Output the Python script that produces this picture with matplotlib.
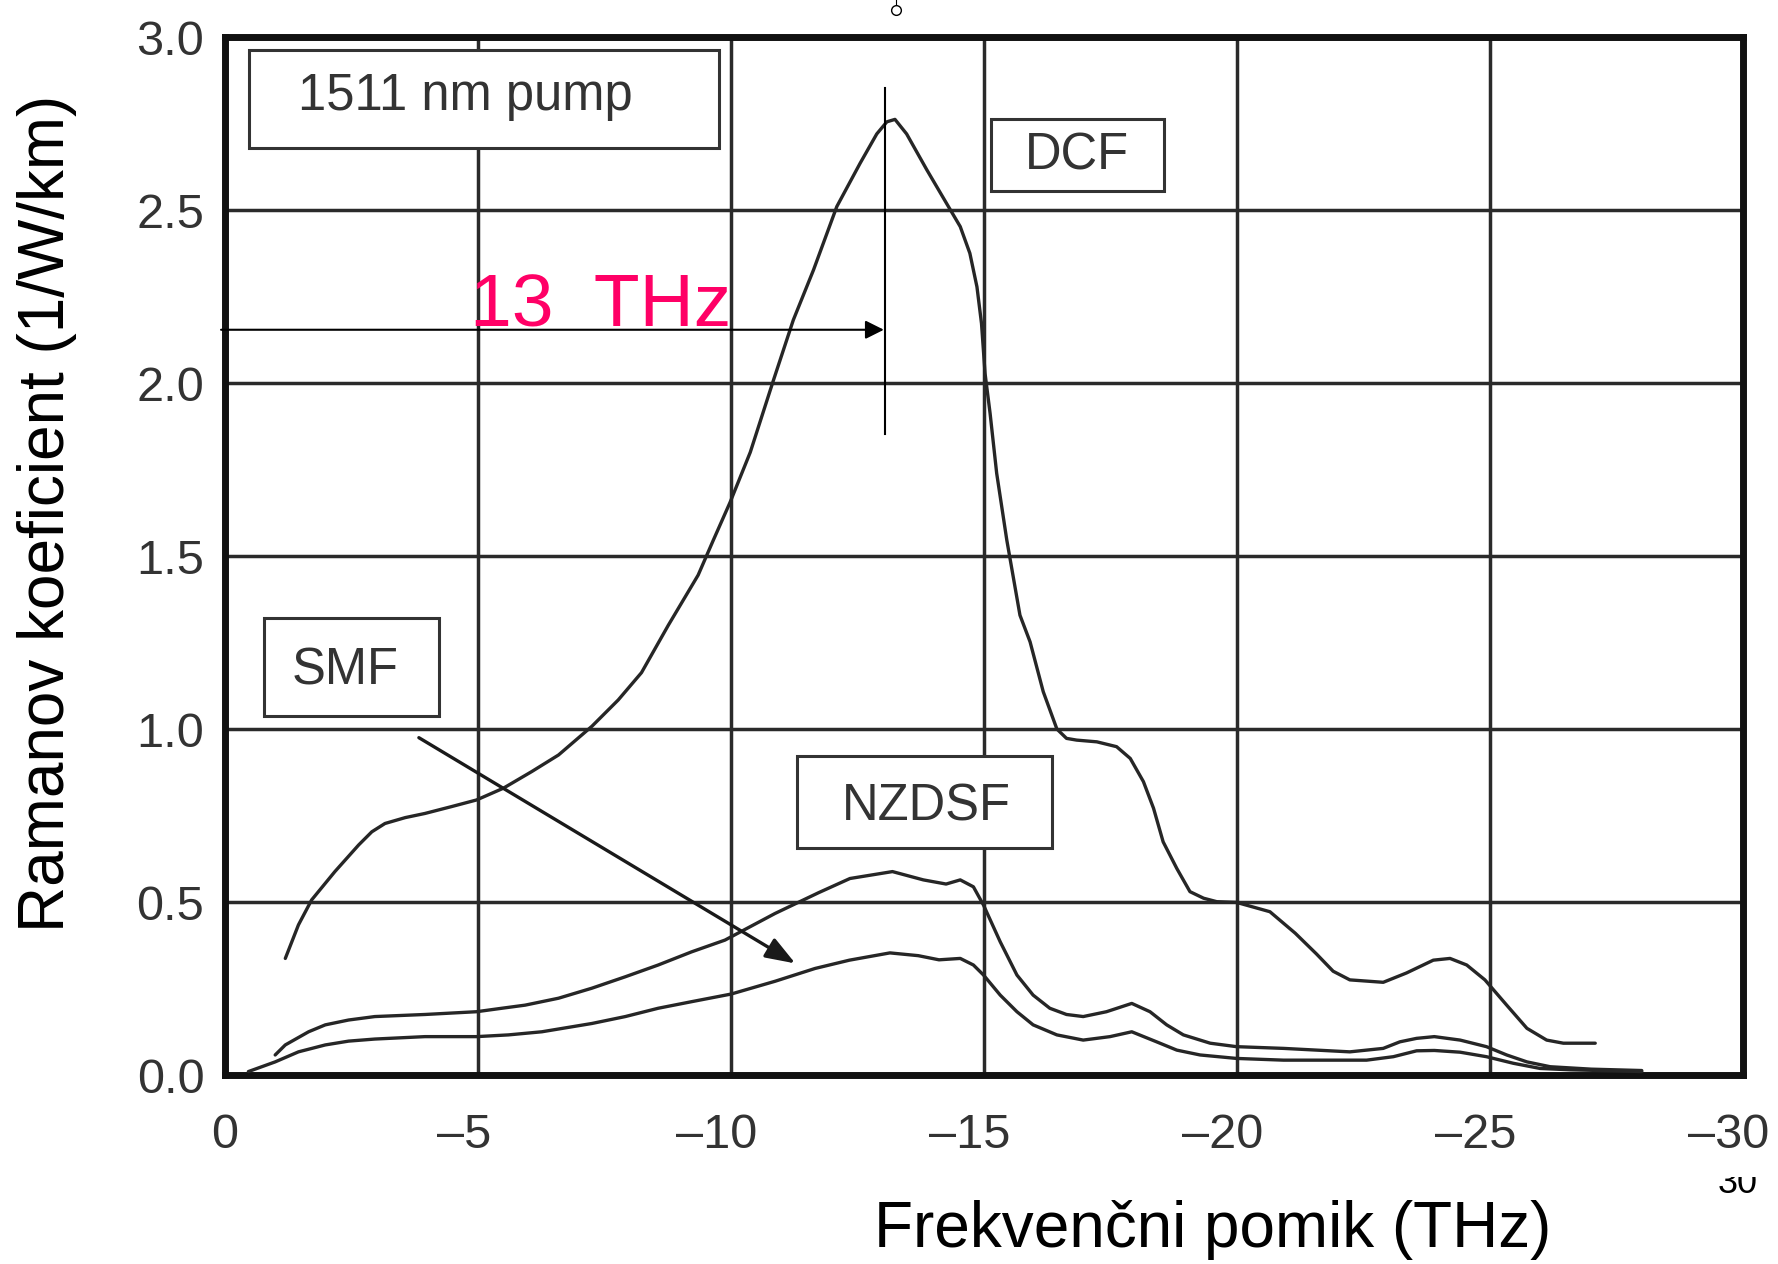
import matplotlib
matplotlib.use("Agg")
import matplotlib.pyplot as plt
from matplotlib.patches import Rectangle
from matplotlib.lines import Line2D
from matplotlib.transforms import ScaledTranslation

plt.rcParams['font.family'] = ['Liberation Sans', 'DejaVu Sans']

# Raman gain curves (frequency shift in THz, gain in 1/W/km)
dcf_x = [-1.19, -1.45, -1.71, -2.17, -2.64, -2.90, -3.16, -3.56, -3.95, -4.48, -4.97,
         -5.50, -6.06, -6.59, -7.25, -7.77, -8.23, -8.76, -9.35, -9.65, -9.98, -10.38,
         -10.84, -11.23, -11.63, -12.09, -12.55, -12.88, -13.08, -13.24, -13.47, -13.87,
         -14.26, -14.53, -14.72, -14.86, -14.95, -15.02, -15.12, -15.25, -15.45, -15.71,
         -15.91, -16.17, -16.44, -16.63, -16.83, -17.23, -17.62, -17.89, -18.15, -18.35,
         -18.54, -18.81, -19.07, -19.34, -19.60, -19.99, -20.65, -21.15, -21.57, -21.90,
         -22.23, -22.89, -23.35, -23.88, -24.21, -24.54, -24.90, -25.33, -25.73, -26.12,
         -26.45, -27.08]
dcf_y = [0.337, 0.434, 0.506, 0.588, 0.665, 0.703, 0.727, 0.744, 0.756, 0.776, 0.795,
         0.829, 0.877, 0.925, 1.008, 1.084, 1.163, 1.30, 1.445, 1.546, 1.655, 1.80,
         2.009, 2.182, 2.327, 2.510, 2.635, 2.720, 2.755, 2.762, 2.720, 2.616,
         2.519, 2.452, 2.375, 2.278, 2.172, 2.028, 1.912, 1.739, 1.546, 1.329,
         1.252, 1.108, 1.0, 0.973, 0.968, 0.963, 0.949, 0.915, 0.848, 0.771,
         0.674, 0.597, 0.530, 0.511, 0.501, 0.499, 0.472, 0.41, 0.35, 0.30,
         0.275, 0.268, 0.295, 0.332, 0.337, 0.318, 0.275, 0.202, 0.135, 0.101,
         0.092, 0.092]

nzdsf_x = [-0.99, -1.19, -1.65, -1.98, -2.44, -2.96, -3.95, -4.97, -5.47, -5.93, -6.59,
           -7.25, -7.91, -8.56, -9.22, -9.88, -10.87, -11.73, -12.35, -13.19, -13.80,
           -14.25, -14.53, -14.79, -14.99, -15.32, -15.65, -15.97, -16.30, -16.63,
           -16.96, -17.42, -17.92, -18.28, -18.61, -18.94, -19.47, -19.99, -20.92,
           -22.23, -22.89, -23.22, -23.55, -23.9, -24.41, -24.93, -25.33, -25.73,
           -26.19, -27.0, -28.0]
nzdsf_y = [0.058, 0.087, 0.125, 0.145, 0.159, 0.169, 0.175, 0.183, 0.193, 0.202, 0.222,
           0.251, 0.284, 0.318, 0.356, 0.390, 0.467, 0.527, 0.568, 0.588, 0.564,
           0.552, 0.564, 0.544, 0.491, 0.385, 0.289, 0.231, 0.193, 0.175,
           0.169, 0.183, 0.207, 0.183, 0.145, 0.116, 0.092, 0.082, 0.077,
           0.067, 0.077, 0.096, 0.106, 0.111, 0.101, 0.082, 0.058, 0.038,
           0.024, 0.017, 0.013]

smf_x = [-0.46, -0.99, -1.45, -1.98, -2.44, -2.96, -3.95, -4.97, -5.60, -6.26, -7.25,
         -7.91, -8.56, -9.22, -10.0, -10.87, -11.66, -12.34, -13.14, -13.7, -14.11,
         -14.53, -14.79, -14.99, -15.32, -15.65, -15.97, -16.44, -16.96, -17.49,
         -17.92, -18.41, -18.81, -19.27, -19.99, -20.92, -22.56, -23.09, -23.55,
         -23.9, -24.41, -24.93, -25.46, -25.99, -26.6, -27.5, -28.0]
smf_y = [0.010, 0.038, 0.067, 0.087, 0.098, 0.104, 0.111, 0.111, 0.116, 0.125, 0.149,
         0.169, 0.193, 0.212, 0.234, 0.271, 0.308, 0.332, 0.353, 0.345, 0.333,
         0.337, 0.318, 0.289, 0.231, 0.183, 0.145, 0.116, 0.101, 0.111,
         0.125, 0.096, 0.072, 0.058, 0.048, 0.043, 0.043, 0.053, 0.070,
         0.071, 0.066, 0.053, 0.034, 0.019, 0.015, 0.012, 0.010]

x_ticks = [0, -5, -10, -15, -20, -25, -30]
y_ticks = [0.0, 0.5, 1.0, 1.5, 2.0, 2.5, 3.0]
peak_shift = -13.04

line_col = '#262626'
text_col = '#333333'

fig = plt.figure(figsize=(17.78, 12.64), dpi=100)
ax = fig.add_axes([0.1266, 0.1495, 0.8537, 0.8212])

for xs, ys in [(dcf_x, dcf_y), (nzdsf_x, nzdsf_y), (smf_x, smf_y)]:
    ax.plot(xs, ys, color=line_col, lw=2.4, zorder=3,
            solid_joinstyle='round', solid_capstyle='round')

ax.set_xlim(0, -30)
ax.set_ylim(0, 3)
ax.set_xticks(x_ticks)
ax.set_xticklabels([('%d' % v).replace('-', '\u2013') for v in x_ticks])
ax.set_yticks(y_ticks)
ax.set_yticklabels(['%.1f' % v for v in y_ticks])
ax.grid(True, color='#2a2a2a', lw=2.5)
ax.set_axisbelow(True)
ax.tick_params(axis='both', length=0, labelsize=35, labelcolor=text_col)
ax.tick_params(axis='y', pad=15)
ax.tick_params(axis='x', pad=27)
for sp in ax.spines.values():
    sp.set_linewidth(5)
    sp.set_color('#111111')

# the dash hangs to the left of the tick, digits sit on the grid line
shift = ScaledTranslation(-0.14, 0, fig.dpi_scale_trans)
for v, lab in zip(x_ticks, ax.get_xticklabels()):
    if v < 0:
        lab.set_transform(lab.get_transform() + shift)

# label boxes
boxes = [
    ((-0.466, 2.678), -9.29, 0.285, '1511 nm pump', (-4.74, 2.789)),
    ((-15.13, 2.556), -3.42, 0.206, 'DCF', (-16.84, 2.618)),
    ((-0.777, 1.038), -3.46, 0.282, 'SMF', (-2.37, 1.129)),
    ((-11.30, 0.655), -5.04, 0.267, 'NZDSF', (-13.87, 0.737)),
]
for (x0, y0), w, h, label, (tx, ty) in boxes:
    ax.add_patch(Rectangle((x0, y0), w, h, fill=True, facecolor='white',
                           edgecolor=text_col, lw=2.2, zorder=4))
    ax.text(tx, ty, label, ha='center', va='baseline', fontsize=36.5,
            color=text_col, zorder=5)

# 13 THz marker
ax.plot([peak_shift, peak_shift], [1.853, 2.853], color='black', lw=1.5, zorder=6)
ax.annotate('', xy=(-13.02, 2.154), xytext=(0.08, 2.154),
            arrowprops=dict(arrowstyle='-|>', color='black', lw=1.5,
                            mutation_scale=28, shrinkA=0, shrinkB=0),
            annotation_clip=False, zorder=6)
ax.text(-4.85, 2.163, '13  THz', color='#FF0066', fontsize=54,
        ha='left', va='baseline', zorder=6)

# SMF arrow
ax.annotate('', xy=(-11.27, 0.3226), xytext=(-3.83, 0.975),
            arrowprops=dict(arrowstyle='-|>,head_length=0.6,head_width=0.22',
                            color='#1a1a1a', lw=2.4, mutation_scale=30,
                            shrinkA=0, shrinkB=0),
            zorder=6)

fig.text(0.0264, 0.594, 'Ramanov koeficient (1/W/km)', rotation=90,
         ha='center', va='center', fontsize=46, color='black')
fig.text(0.682, 17 / 1264, 'Frekvenčni pomik (THz)', ha='center',
         va='baseline', fontsize=46, color='black')

# page number, partly hidden
fig.text(1738 / 1778, 1 - 1193 / 1264, '30', ha='center', va='baseline',
         fontsize=26, color='black')
fig.add_artist(Rectangle((1700 / 1778, 1 - 1177 / 1264), 78 / 1778, 20 / 1264,
                         transform=fig.transFigure, facecolor='white',
                         edgecolor='none', zorder=10))

# small circle mark above the frame
fig.add_artist(Line2D([896 / 1778, 896 / 1778], [1.0, 1 - 6 / 1264],
                      transform=fig.transFigure, color='black', lw=0.8))
fig.add_artist(Line2D([896 / 1778], [1 - 10 / 1264], transform=fig.transFigure,
                      marker='o', markersize=7, markerfacecolor='white',
                      markeredgecolor='black', markeredgewidth=1.0))

fig.savefig('out.png', dpi=100, facecolor='white')
